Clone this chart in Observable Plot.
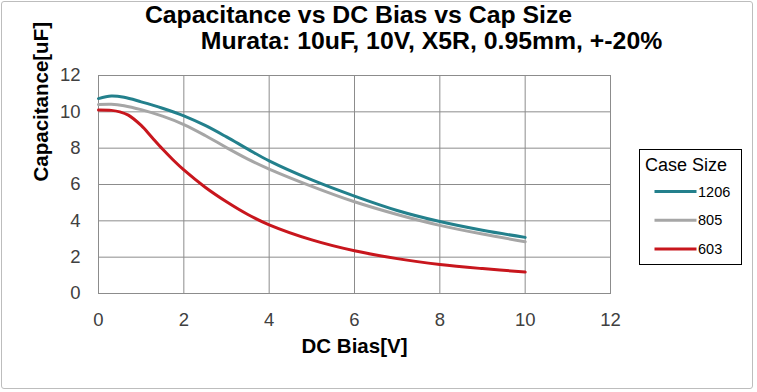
<!DOCTYPE html>
<html>
<head>
<meta charset="utf-8">
<script src="https://cdn.jsdelivr.net/npm/d3@7"></script>
<script src="https://cdn.jsdelivr.net/npm/@observablehq/plot@0.6"></script>
<style>
  html, body { margin: 0; padding: 0; background: #fff; }
  #wrap { position: relative; width: 757px; height: 392px; font-family: "Liberation Sans", Arial, sans-serif; }
  #border { position: absolute; left: 1px; top: 1px; width: 752px; height: 388px; border: 1px solid #bdbdbd; border-radius: 3px; box-sizing: border-box; }
  .title { position: absolute; font-weight: bold; color: #000; white-space: nowrap; line-height: 1; text-align: center; }
  #t1 { left: 0; width: 717px; top: 2.5px; font-size: 24.8px; }
  #t2 { left: 0; width: 863px; top: 29px; font-size: 24.8px; }
  #legend { position: absolute; left: 639px; top: 149px; width: 103px; height: 116px; border: 1px solid #000; box-sizing: border-box; }
  #plot { position: absolute; left: 0; top: 0; }
</style>
</head>
<body>
<div id="wrap">
  <div id="border"></div>
  <div id="plot"></div>
  <div class="title" id="t1">Capacitance vs DC Bias vs Cap Size</div>
  <div class="title" id="t2">Murata: 10uF, 10V, X5R, 0.95mm, +-20%</div>
  <svg id="legend"></svg>
</div>
<script>
const seriesNames = ["1206", "805", "603"];
const seriesColors = ["#23808c", "#a6a6a6", "#c8161d"];
const bias1206 = [0, 0.3, 0.6, 1, 1.5, 2, 2.5, 3, 3.5, 4, 5, 6, 7, 8, 9, 10];
const cap1206 = [10.73, 10.87, 10.8, 10.55, 10.2, 9.78, 9.25, 8.62, 7.95, 7.3, 6.25, 5.36, 4.57, 3.96, 3.48, 3.09];
const bias805 = [0, 0.3, 0.6, 1, 1.5, 2, 2.5, 3, 3.5, 4, 5, 6, 7, 8, 9, 10];
const cap805 = [10.4, 10.42, 10.34, 10.12, 9.76, 9.3, 8.7, 8.03, 7.4, 6.85, 5.9, 5.05, 4.35, 3.75, 3.27, 2.85];
const bias603 = [0, 0.3, 0.5, 0.7, 1, 1.25, 1.5, 1.75, 2, 2.5, 3, 3.5, 4, 5, 6, 7, 8, 9, 10];
const cap603 = [10.1, 10.08, 10.0, 9.82, 9.25, 8.6, 7.95, 7.35, 6.8, 5.85, 5.05, 4.35, 3.78, 2.95, 2.35, 1.92, 1.6, 1.37, 1.18];
const xTicks = [0, 2, 4, 6, 8, 10, 12];
const yTicks = [0, 2, 4, 6, 8, 10, 12];

const rows = [];
[[bias1206, cap1206], [bias805, cap805], [bias603, cap603]].forEach(([xs, ys], i) => {
  xs.forEach((x, j) => rows.push({series: seriesNames[i], bias: x, cap: ys[j]}));
});

const chart = Plot.plot({
  width: 757,
  height: 392,
  marginLeft: 98,
  marginRight: 147,
  marginTop: 75,
  marginBottom: 99,
  style: {fontFamily: '"Liberation Sans", Arial, sans-serif', background: "transparent", color: "#404040"},
  x: {domain: [0, 12], ticks: xTicks, label: null},
  y: {domain: [0, 12], ticks: yTicks, label: null},
  color: {domain: seriesNames, range: seriesColors},
  marks: [
    Plot.gridX(xTicks, {stroke: "#8c8c8c", strokeOpacity: 1, strokeWidth: 1}),
    Plot.gridY(yTicks, {stroke: "#8c8c8c", strokeOpacity: 1, strokeWidth: 1}),
    Plot.frame({stroke: "#8c8c8c"}),
    Plot.axisX(xTicks, {tickSize: 0, tickPadding: 19, fontSize: 18.5, fill: "#404040"}),
    Plot.axisY(yTicks, {tickSize: 0, tickPadding: 18, fontSize: 18.5, fill: "#404040"}),
    Plot.line(rows, {x: "bias", y: "cap", z: "series", stroke: "series", strokeWidth: 3, curve: "catmull-rom"}),
    Plot.text(["DC Bias[V]"], {frameAnchor: "bottom", dy: 59, fontSize: 20.5, fontWeight: "bold", fill: "#000"}),
    Plot.text(["Capacitance[uF]"], {frameAnchor: "left", dx: -57, dy: -3, rotate: -90, fontSize: 20.5, fontWeight: "bold", fill: "#000"})
  ]
});
document.getElementById("plot").appendChild(chart);

const leg = d3.select("#legend").attr("width", 103).attr("height", 116);
leg.append("text").attr("x", 5).attr("y", 21).attr("font-size", 18).attr("fill", "#000")
  .attr("font-family", '"Liberation Sans", Arial, sans-serif').text("Case Size");
seriesNames.forEach((name, i) => {
  const y = 41.5 + i * 28.75;
  leg.append("line").attr("x1", 14.5).attr("x2", 56.5).attr("y1", y).attr("y2", y)
    .attr("stroke", seriesColors[i]).attr("stroke-width", 3);
  leg.append("text").attr("x", 58).attr("y", y + 5).attr("font-size", 14.5).attr("fill", "#000")
    .attr("font-family", '"Liberation Sans", Arial, sans-serif').text(name);
});
</script>
</body>
</html>
